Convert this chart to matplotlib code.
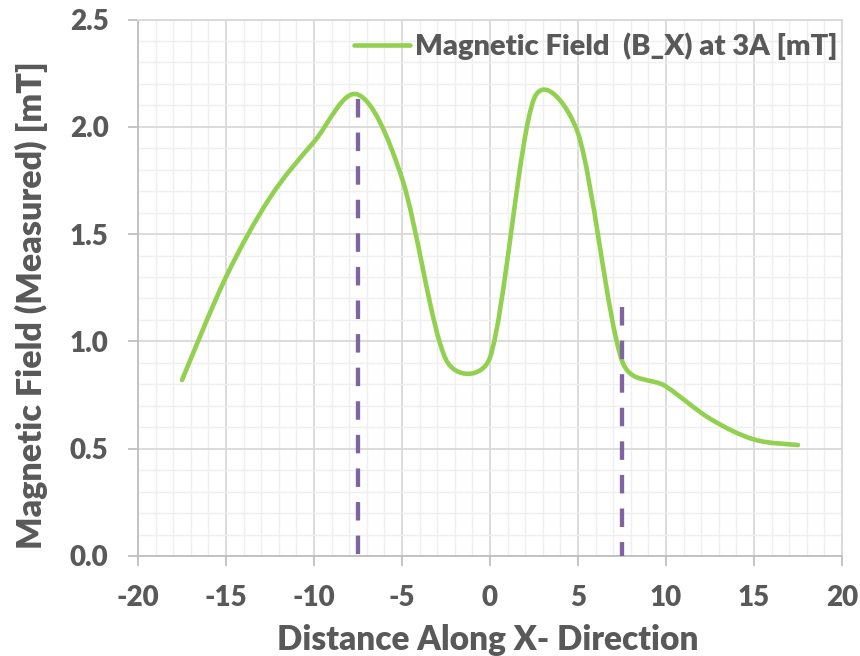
import numpy as np
import matplotlib
matplotlib.use('Agg')
import matplotlib.pyplot as plt
from matplotlib.path import Path
from matplotlib.patches import PathPatch
from matplotlib.lines import Line2D
from matplotlib.ticker import MultipleLocator, FormatStrFormatter

plt.rcParams['font.family'] = ['Lato', 'DejaVu Sans']
plt.rcParams['font.weight'] = 'heavy'
plt.rcParams['axes.unicode_minus'] = False

# measured field along x
distance = [-17.5, -15, -12.5, -10, -7.5, -5, -2.5, 0, 2.5, 5, 7.5, 10, 12.5, 15, 17.5]
b_x = [0.82, 1.30, 1.67, 1.93, 2.15, 1.76, 0.915, 0.925, 2.13, 1.97, 0.91, 0.79, 0.64, 0.543, 0.517]

# dashed marker lines
marker_x = [-7.5, 7.5]
marker_top = [2.13, 1.16]

legend_label = 'Magnetic Field  (B_X) at 3A [mT]'
x_title = 'Distance Along X- Direction'
y_title = 'Magnetic Field (Measured) [mT]'

GREEN = '#92d050'
PURPLE = '#8064a2'
TXT = '#595959'

W, H = 860, 656
fig = plt.figure(figsize=(W / 100, H / 100), dpi=100)
ax = fig.add_axes([138 / W, 1 - 556 / H, (842 - 138) / W, (556 - 19.5) / H])
ax.set_xlim(-20, 20)
ax.set_ylim(0, 2.5)

ax.xaxis.set_major_locator(MultipleLocator(5))
ax.xaxis.set_minor_locator(MultipleLocator(1))
ax.yaxis.set_major_locator(MultipleLocator(0.5))
ax.yaxis.set_minor_locator(MultipleLocator(0.1))
ax.yaxis.set_major_formatter(FormatStrFormatter('%.1f'))
ax.grid(which='minor', color='#efefef', lw=1.0, zorder=0)
ax.grid(which='major', color='#d9d9d9', lw=1.3, zorder=0)
ax.set_axisbelow(True)
ax.tick_params(which='minor', length=0)
ax.tick_params(which='major', length=7.2, width=1.3, color='#bfbfbf',
               labelsize=20, labelcolor=TXT, pad=14)
for s in ['left', 'bottom']:
    ax.spines[s].set_color('#bfbfbf')
    ax.spines[s].set_linewidth(1.3)
for s in ['top', 'right']:
    ax.spines[s].set_color('#d9d9d9')
    ax.spines[s].set_linewidth(1.3)


# excel-like smoothing: bezier arms of 1/6, capped to half the segment (in pixels)
def excel_smooth(ax, xs, ys):
    pts = ax.transData.transform(np.column_stack([xs, ys]))
    n = len(pts)
    verts = [pts[0]]
    codes = [Path.MOVETO]
    for i in range(n - 1):
        p0 = pts[i - 1] if i > 0 else pts[i]
        p1 = pts[i]
        p2 = pts[i + 1]
        p3 = pts[i + 2] if i + 2 < n else pts[i + 1]
        d02 = np.hypot(*(p2 - p0))
        d12 = np.hypot(*(p2 - p1))
        d13 = np.hypot(*(p3 - p1))
        f1 = 1 / 6
        f2 = 1 / 6
        if d02 > 0 and d02 / 6 >= d12 / 2:
            f1 = d12 / (2 * d02)
        if d13 > 0 and d13 / 6 >= d12 / 2:
            f2 = d12 / (2 * d13)
        c1 = p1 + f1 * (p2 - p0)
        c2 = p2 - f2 * (p3 - p1)
        verts += [c1, c2, p2]
        codes += [Path.CURVE4] * 3
    verts = ax.transData.inverted().transform(np.array(verts))
    return Path(verts, codes)


curve = PathPatch(excel_smooth(ax, distance, b_x), fill=False, edgecolor=GREEN,
                  lw=3.3, capstyle='round', joinstyle='round', zorder=3)
ax.add_patch(curve)

for mx, mt in zip(marker_x, marker_top):
    ax.plot([mx, mx], [mt, 0], color=PURPLE, lw=3.1, dashes=(4.3, 3.5),
            dash_capstyle='butt', zorder=4)

handle = Line2D([], [], color=GREEN, lw=3.3, solid_capstyle='round')
leg = fig.legend([handle], [legend_label], loc='center right',
                 bbox_to_anchor=(838 / W, 1 - 46 / H), frameon=False,
                 fontsize=21, handlelength=1.9, handletextpad=0.2, borderpad=0,
                 borderaxespad=0)
for t in leg.get_texts():
    t.set_color(TXT)

fig.text(488 / W, 1 - 650 / H, x_title, ha='center', va='baseline',
         fontsize=24, color=TXT)
fig.text(42 / W, 1 - 305 / H, y_title, ha='center', va='baseline',
         rotation=90, rotation_mode='anchor', fontsize=24.5, color=TXT)

fig.savefig('out.png', dpi=100)
